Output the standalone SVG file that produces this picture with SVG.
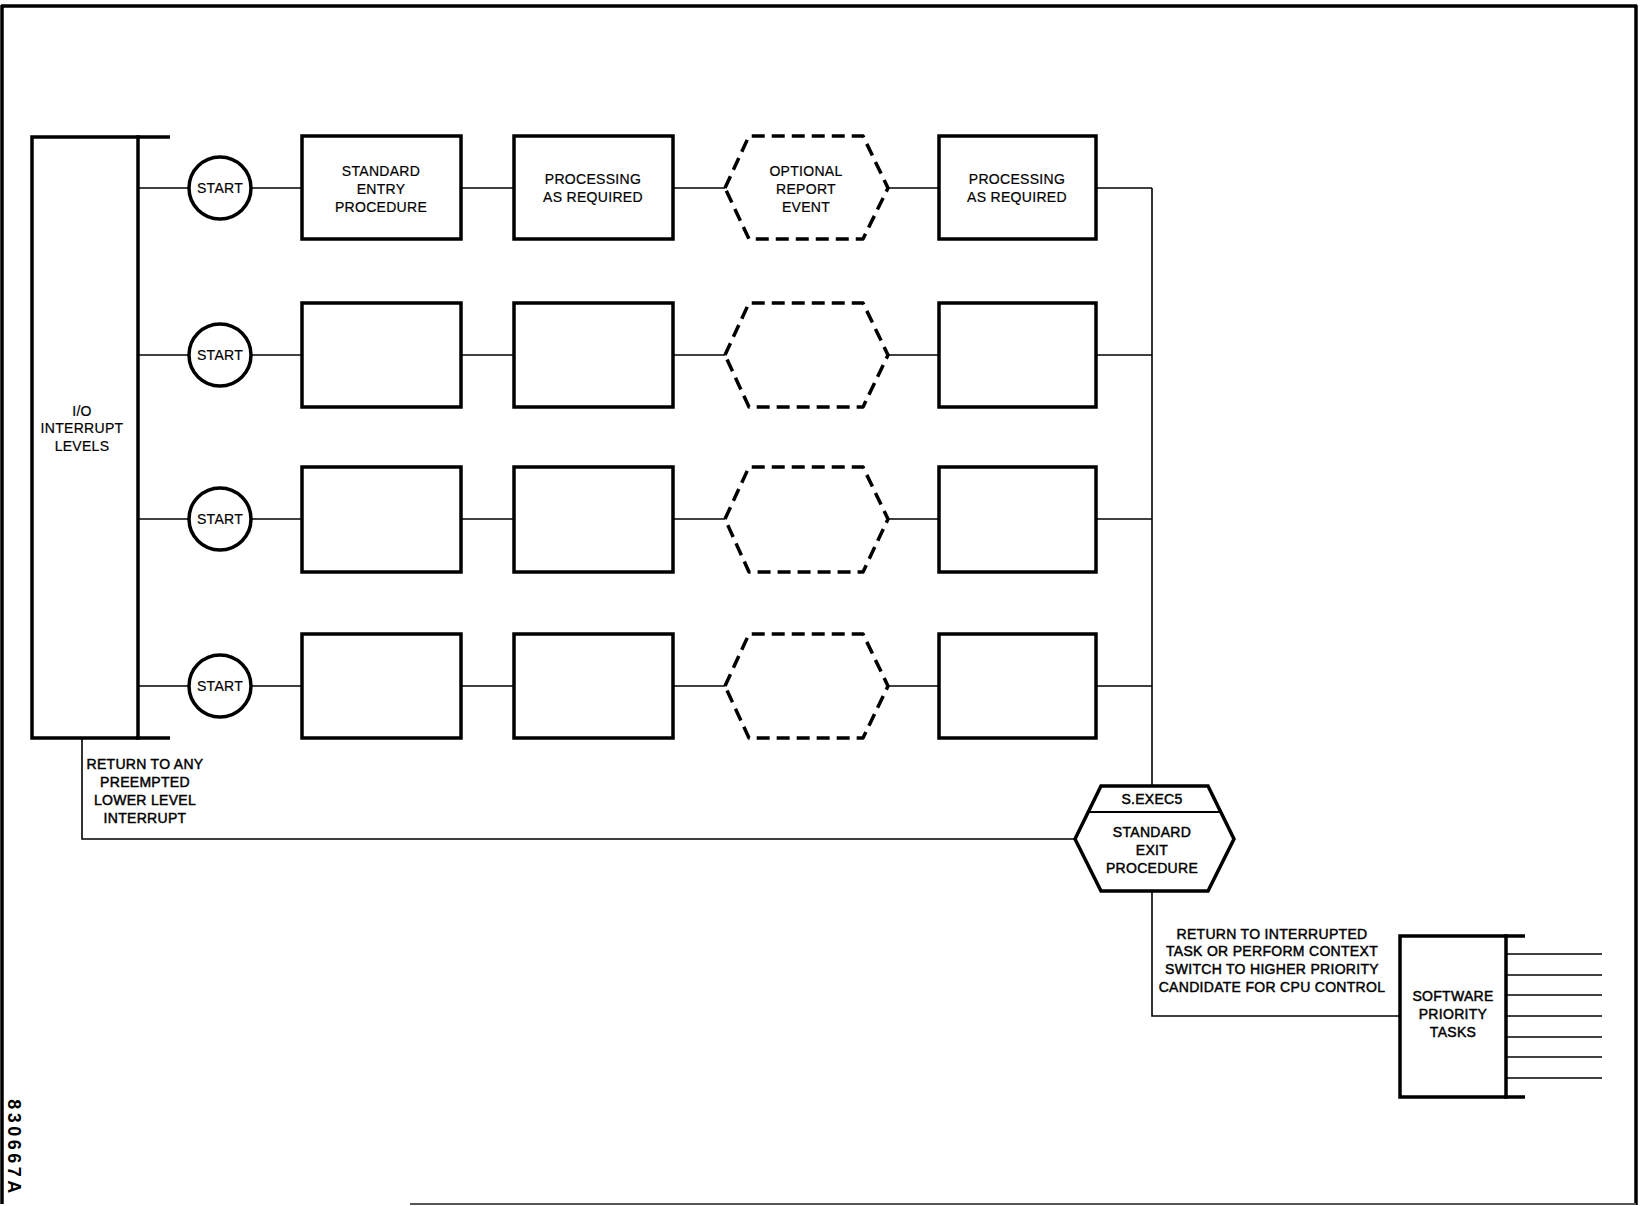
<svg xmlns="http://www.w3.org/2000/svg" width="1643" height="1206" viewBox="0 0 1643 1206">
<style>
  .box{fill:#fff;stroke:#000;stroke-width:3.5;stroke-linejoin:miter}
  .dash{fill:#fff;stroke:#000;stroke-width:3.5;stroke-dasharray:13 7;stroke-linejoin:round}
  .circ{fill:#fff;stroke:#000;stroke-width:3.5}
  .ln{fill:none;stroke:#000;stroke-width:1.6}
  .thick{fill:none;stroke:#000;stroke-width:3.5}
  .t{font-family:"Liberation Sans",Arial,Helvetica,sans-serif;font-size:14px;fill:#000;text-anchor:middle;letter-spacing:0.3px}
  .m{stroke:#000;stroke-width:0.2}
  .b{stroke:#000;stroke-width:0.45}
</style>
<rect x="0" y="0" width="1643" height="1206" fill="#fff"/>
<g id="border">
  <line x1="1" y1="6" x2="1637" y2="6" class="thick" stroke-width="3"/>
  <line x1="2" y1="5" x2="2" y2="1204" class="thick" stroke-width="2.5"/>
  <line x1="1636" y1="5" x2="1636" y2="1205" class="thick" stroke-width="3"/>
  <line x1="410" y1="1204" x2="1636" y2="1204" stroke="#555" stroke-width="2"/>
</g>

<g id="connectors">
  <!-- row 1 -->
  <line class="ln" x1="138" y1="188" x2="188" y2="188"/>
  <line class="ln" x1="252" y1="188" x2="302" y2="188"/>
  <line class="ln" x1="461" y1="188" x2="514" y2="188"/>
  <line class="ln" x1="673" y1="188" x2="725" y2="188"/>
  <line class="ln" x1="888" y1="188" x2="939" y2="188"/>
  <line class="ln" x1="1096" y1="188" x2="1152" y2="188"/>
  <!-- row 2 -->
  <line class="ln" x1="138" y1="355" x2="188" y2="355"/>
  <line class="ln" x1="252" y1="355" x2="302" y2="355"/>
  <line class="ln" x1="461" y1="355" x2="514" y2="355"/>
  <line class="ln" x1="673" y1="355" x2="725" y2="355"/>
  <line class="ln" x1="888" y1="355" x2="939" y2="355"/>
  <line class="ln" x1="1096" y1="355" x2="1152" y2="355"/>
  <!-- row 3 -->
  <line class="ln" x1="138" y1="519" x2="188" y2="519"/>
  <line class="ln" x1="252" y1="519" x2="302" y2="519"/>
  <line class="ln" x1="461" y1="519" x2="514" y2="519"/>
  <line class="ln" x1="673" y1="519" x2="725" y2="519"/>
  <line class="ln" x1="888" y1="519" x2="939" y2="519"/>
  <line class="ln" x1="1096" y1="519" x2="1152" y2="519"/>
  <!-- row 4 -->
  <line class="ln" x1="138" y1="686" x2="188" y2="686"/>
  <line class="ln" x1="252" y1="686" x2="302" y2="686"/>
  <line class="ln" x1="461" y1="686" x2="514" y2="686"/>
  <line class="ln" x1="673" y1="686" x2="725" y2="686"/>
  <line class="ln" x1="888" y1="686" x2="939" y2="686"/>
  <line class="ln" x1="1096" y1="686" x2="1152" y2="686"/>
  <!-- collector -->
  <line class="ln" x1="1152" y1="188" x2="1152" y2="786"/>
  <!-- return to preempted -->
  <polyline class="ln" points="82,738 82,839 1075,839"/>
  <!-- to software tasks -->
  <polyline class="ln" points="1152,891 1152,1016 1400,1016"/>
  <!-- software task outputs -->
  <line class="ln" x1="1506" y1="954" x2="1602" y2="954"/>
  <line class="ln" x1="1506" y1="975" x2="1602" y2="975"/>
  <line class="ln" x1="1506" y1="995" x2="1602" y2="995"/>
  <line class="ln" x1="1506" y1="1016" x2="1602" y2="1016"/>
  <line class="ln" x1="1506" y1="1037" x2="1602" y2="1037"/>
  <line class="ln" x1="1506" y1="1057" x2="1602" y2="1057"/>
  <line class="ln" x1="1506" y1="1078" x2="1602" y2="1078"/>
</g>

<g id="io-levels">
  <rect class="box" x="32" y="137" width="106" height="601"/>
  <line class="thick" x1="136" y1="137" x2="170" y2="137"/>
  <line class="thick" x1="136" y1="738" x2="170" y2="738"/>
  <text class="t m" x="82" y="416">I/O</text>
  <text class="t m" x="82" y="433">INTERRUPT</text>
  <text class="t m" x="82" y="451">LEVELS</text>
</g>

<g id="row1">
  <g id="start1"><circle class="circ" cx="220" cy="188" r="31"/><text class="t m" x="220" y="193">START</text></g>
  <g id="entry1"><rect class="box" x="302" y="136" width="159" height="103"/>
    <text class="t m" x="381" y="176">STANDARD</text><text class="t m" x="381" y="194">ENTRY</text><text class="t m" x="381" y="212">PROCEDURE</text></g>
  <g id="proc1a"><rect class="box" x="514" y="136" width="159" height="103"/>
    <text class="t m" x="593" y="184">PROCESSING</text><text class="t m" x="593" y="202">AS REQUIRED</text></g>
  <g id="report1"><polygon class="dash" points="725,188 749,136 863,136 888,188 863,239 749,239"/>
    <text class="t m" x="806" y="176">OPTIONAL</text><text class="t m" x="806" y="194">REPORT</text><text class="t m" x="806" y="212">EVENT</text></g>
  <g id="proc1b"><rect class="box" x="939" y="136" width="157" height="103"/>
    <text class="t m" x="1017" y="184">PROCESSING</text><text class="t m" x="1017" y="202">AS REQUIRED</text></g>
</g>

<g id="row2">
  <g id="start2"><circle class="circ" cx="220" cy="355" r="31"/><text class="t m" x="220" y="360">START</text></g>
  <g id="entry2"><rect class="box" x="302" y="303" width="159" height="104"/></g>
  <g id="proc2a"><rect class="box" x="514" y="303" width="159" height="104"/></g>
  <g id="report2"><polygon class="dash" points="725,355 749,303 863,303 888,355 863,407 749,407"/></g>
  <g id="proc2b"><rect class="box" x="939" y="303" width="157" height="104"/></g>
</g>

<g id="row3">
  <g id="start3"><circle class="circ" cx="220" cy="519" r="31"/><text class="t m" x="220" y="524">START</text></g>
  <g id="entry3"><rect class="box" x="302" y="467" width="159" height="105"/></g>
  <g id="proc3a"><rect class="box" x="514" y="467" width="159" height="105"/></g>
  <g id="report3"><polygon class="dash" points="725,519 749,467 863,467 888,519 863,572 749,572"/></g>
  <g id="proc3b"><rect class="box" x="939" y="467" width="157" height="105"/></g>
</g>

<g id="row4">
  <g id="start4"><circle class="circ" cx="220" cy="686" r="31"/><text class="t m" x="220" y="691">START</text></g>
  <g id="entry4"><rect class="box" x="302" y="634" width="159" height="104"/></g>
  <g id="proc4a"><rect class="box" x="514" y="634" width="159" height="104"/></g>
  <g id="report4"><polygon class="dash" points="725,686 749,634 863,634 888,686 863,738 749,738"/></g>
  <g id="proc4b"><rect class="box" x="939" y="634" width="157" height="104"/></g>
</g>

<g id="exit-procedure">
  <polygon class="box" points="1075,839 1101,786 1208,786 1234,839 1208,891 1101,891"/>
  <line x1="1088" y1="812" x2="1221" y2="812" stroke="#000" stroke-width="2"/>
  <text class="t b" x="1152" y="804">S.EXEC5</text>
  <text class="t b" x="1152" y="837">STANDARD</text>
  <text class="t b" x="1152" y="855">EXIT</text>
  <text class="t b" x="1152" y="873">PROCEDURE</text>
</g>

<g id="software-tasks">
  <rect class="box" x="1400" y="936" width="106" height="161"/>
  <line class="thick" x1="1504" y1="936" x2="1525" y2="936"/>
  <line class="thick" x1="1504" y1="1097" x2="1525" y2="1097"/>
  <text class="t b" x="1453" y="1001">SOFTWARE</text>
  <text class="t b" x="1453" y="1019">PRIORITY</text>
  <text class="t b" x="1453" y="1037">TASKS</text>
</g>

<g id="labels">
  <text class="t b" x="145" y="769">RETURN TO ANY</text>
  <text class="t b" x="145" y="787">PREEMPTED</text>
  <text class="t b" x="145" y="805">LOWER LEVEL</text>
  <text class="t b" x="145" y="823">INTERRUPT</text>
  <text class="t b" x="1272" y="939">RETURN TO INTERRUPTED</text>
  <text class="t b" x="1272" y="956">TASK OR PERFORM CONTEXT</text>
  <text class="t b" x="1272" y="974">SWITCH TO HIGHER PRIORITY</text>
  <text class="t b" x="1272" y="992">CANDIDATE FOR CPU CONTROL</text>
  <text x="8" y="1148" transform="rotate(90 8 1148)" font-family="'Liberation Sans',Arial,sans-serif" font-size="18" font-weight="bold" letter-spacing="3.5" text-anchor="middle" fill="#000">830667A</text>
</g>
</svg>
